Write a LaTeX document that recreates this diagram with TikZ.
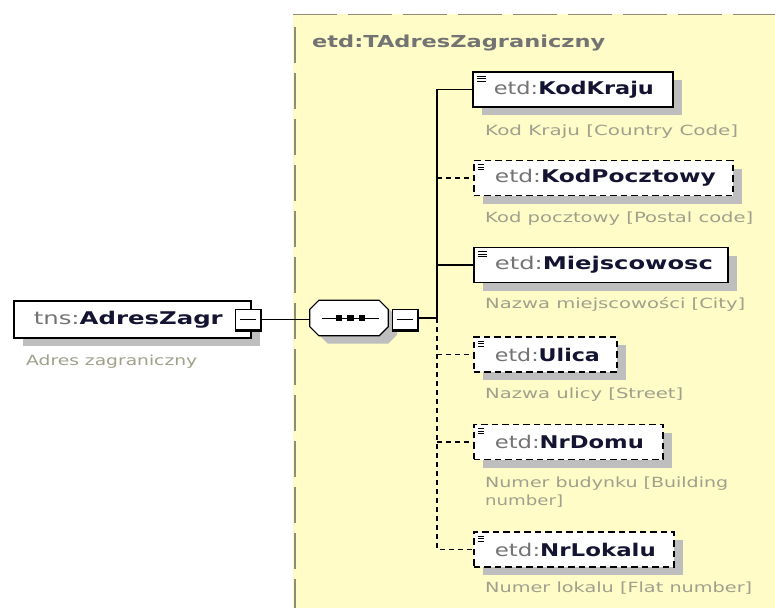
\documentclass[tikz,border=0pt]{standalone}
\usepackage{fontspec}
\usepackage{graphicx}
\setmainfont{DejaVu Sans}
\usetikzlibrary{shadows}
\definecolor{bgyellow}{RGB}{255,252,200}
\definecolor{panelline}{RGB}{140,140,120}
\definecolor{shadowgray}{RGB}{190,190,190}
\definecolor{prefixgray}{RGB}{115,115,115}
\definecolor{namecol}{RGB}{20,20,50}
\definecolor{desccol}{RGB}{160,160,140}
\newcommand{\fitw}[2]{\resizebox{#1}{\height}{#2}}
\newcommand{\elname}[2]{{\color{prefixgray}#1:}{\bfseries\color{namecol}#2}}
% \elbox{box width}{text width}{prefix}{name}
\newcommand{\elbox}[4]{\makebox[#1][l]{\hspace*{21pt}\fitw{#2}{\elname{#3}{#4}}}}
\tikzset{
  shd/.style={drop shadow={shadow xshift=9pt, shadow yshift=-8pt, opacity=1, fill=shadowgray}},
  elembox/.style={shd, draw=black, fill=white, line width=1.8pt, anchor=west,
    minimum height=35pt, inner sep=0pt, font=\fontsize{17.5}{20}\selectfont,
    path picture={\draw[line width=1pt]
      ([shift={(4pt,-4pt)}]path picture bounding box.north west) -- ++(9pt,0pt)
      ([shift={(4pt,-6.5pt)}]path picture bounding box.north west) -- ++(9pt,0pt)
      ([shift={(4pt,-9pt)}]path picture bounding box.north west) -- ++(9pt,0pt);}},
  optbox/.style={elembox, dash pattern=on 6.5pt off 4pt},
  desc/.style={anchor=base west, inner sep=0pt, text=desccol, font=\fontsize{14}{18}\selectfont, align=left},
  minusbox/.style={draw=black, fill=white, line width=1pt, minimum width=25pt, minimum height=21pt, inner sep=0pt,
    path picture={\draw[line width=1pt] ([xshift=4pt]path picture bounding box.west) -- ([xshift=-5pt]path picture bounding box.east);}},
  conn/.style={line width=1.3pt},
  dconn/.style={line width=1.3pt, dash pattern=on 5pt off 4pt},
}
\begin{document}
\begin{tikzpicture}[x=1pt,y=-1pt]
\useasboundingbox (0,0) rectangle (775,608);
\fill[white] (0,0) rectangle (775,608);
% panel
\fill[bgyellow] (293,14) rectangle (775,608);
\draw[panelline, line width=1pt, dash pattern=on 44pt off 11pt] (293,14) -- (775,14);
\draw[panelline, line width=2pt, dash pattern=on 36pt off 10pt] (295,27) -- (295,608);
\node[anchor=base west, inner sep=0pt, text=prefixgray, font=\fontsize{16.5}{20}\selectfont\bfseries] (title) at (312,47)
  {\fitw{293pt}{etd:TAdresZagraniczny}};

% root element
\node[shd, draw=black, fill=white, line width=1.5pt, minimum width=237pt, minimum height=37pt, inner sep=0pt,
  anchor=north west, font=\fontsize{17.5}{20}\selectfont] (root) at (13,300)
  {\makebox[237pt][l]{\hspace*{20pt}\fitw{189pt}{\elname{tns}{AdresZagr}}}};
\node[minusbox] (rm) at (248,319.5) {};
\draw[line width=2.5pt] (rm.north east) -- (rm.south east) -- (rm.south west);
\node[desc] (rootdesc) at (26,365) {\fitw{171pt}{Adres zagraniczny}};

% sequence
\node[minimum width=78pt, minimum height=35pt, inner sep=0pt] (seq) at (349,318) {};
\draw[shd, draw=black, fill=white, line width=1.2pt]
  ([xshift=9pt]seq.north west) -- ([xshift=-9pt]seq.north east) -- ([yshift=-9pt]seq.north east)
  -- ([yshift=9pt]seq.south east) -- ([xshift=-9pt]seq.south east) -- ([xshift=9pt]seq.south west)
  -- ([yshift=9pt]seq.south west) -- ([yshift=-9pt]seq.north west) -- cycle;
\draw[line width=1pt] ([xshift=12pt]seq.west) -- ([xshift=-9pt]seq.east);
\foreach \dx in {-10,1.5,13}{\fill ([xshift=\dx pt]seq.center) ++(-3.2pt,-3pt) rectangle ++(6.4pt,6pt);}
\node[minusbox] (sm) at (405,319.5) {};
\draw[line width=2.5pt] (sm.north east) -- (sm.south east) -- (sm.south west);

% connectors root -> seq -> trunk
\draw[conn] (rm.east) -- (rm.east -| seq.west);
\coordinate (t) at (437,318);
\draw[conn] (sm.east |- t) -- (t);

% child elements
\node[elembox, minimum width=200pt] (kk) at (472,89.5) {\elbox{200pt}{160pt}{etd}{KodKraju}};
\node[optbox, minimum width=259pt] (kp) at (473,178) {\elbox{259pt}{221pt}{etd}{KodPocztowy}};
\node[elembox, minimum width=254pt] (mj) at (473,265) {\elbox{254pt}{218pt}{etd}{Miejscowosc}};
\node[optbox, minimum width=143pt] (ul) at (473,354.5) {\elbox{143pt}{105pt}{etd}{Ulica}};
\node[optbox, minimum width=189pt] (nd) at (473,442) {\elbox{189pt}{149pt}{etd}{NrDomu}};
\node[optbox, minimum width=200pt] (nl) at (473,549.5) {\elbox{200pt}{161pt}{etd}{NrLokalu}};

\node[desc] (kkd) at (485,135) {\fitw{253pt}{Kod Kraju [Country Code]}};
\node[desc] (kpd) at (485,222) {\fitw{268pt}{Kod pocztowy [Postal code]}};
\node[desc] (mjd) at (485,308) {\fitw{260pt}{Nazwa miejscowości [City]}};
\node[desc] (uld) at (485,398) {\fitw{198pt}{Nazwa ulicy [Street]}};
\node[desc] (ndd) at (485,505) {\fitw{243pt}{Numer budynku [Building}\\\fitw{78pt}{number]}};
\node[desc] (nld) at (485,592) {\fitw{267pt}{Numer lokalu [Flat number]}};

% trunk connectors
\draw[conn] (t) |- (kk.west);
\draw[conn] (t) |- (mj.west);
\draw[dconn] (kp.west -| t) -- (kp.west);
\draw[dconn] (t) |- (nl.west);
\draw[dconn] (ul.west -| t) -- (ul.west);
\draw[dconn] (nd.west -| t) -- (nd.west);
\end{tikzpicture}
\end{document}
